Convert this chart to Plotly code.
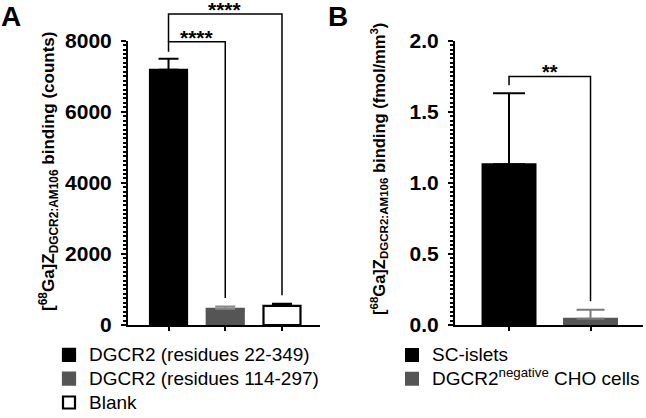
import plotly.graph_objects as go

# ---- data ----
cats_a = ["DGCR2 (residues 22-349)", "DGCR2 (residues 114-297)", "Blank"]
means_a = [7180, 455, 540]
errs_a = [310, 65, 55]
fills_a = ["#000000", "#555555", "#ffffff"]
lines_a = ["#000000", "#555555", "#000000"]
errc_a = ["#000000", "#8a8a8a", "#000000"]

cats_b = ["SC-islets", "DGCR2<sup>negative</sup> CHO cells"]
means_b = [1.13, 0.044]
errs_b = [0.50, 0.063]
fills_b = ["#000000", "#555555"]
errc_b = ["#000000", "#7a7a7a"]

ticks_a = [0, 2000, 4000, 6000, 8000]
ticks_b = [0.0, 0.5, 1.0, 1.5, 2.0]

# significance: (i, j, bracket level, left-leg bottom, label)
sig_a = [(0, 1, 7970, 7690, "****"), (0, 2, 8750, 7970, "****")]
sig_b = [(0, 1, 1.749, 1.687, "**")]

W, H = 646, 418
FONT = "Liberation Sans, Arial, sans-serif"

ydom = [1 - 325 / H, 1 - 40.7 / H]


def ypaper(v, vmax):
    return ydom[0] + v / vmax * (ydom[1] - ydom[0])


def leg_name(s):
    return f'<span style="font-size:19px">{s}</span>'


fig = go.Figure()

for i, (c, m, e) in enumerate(zip(cats_a, means_a, errs_a)):
    fig.add_trace(go.Bar(
        x=[i], y=[m], width=0.652, name=leg_name(c),
        marker=dict(color=fills_a[i], line=dict(color=lines_a[i], width=2.2)),
        error_y=dict(type="data", symmetric=False, array=[e], arrayminus=[0],
                     thickness=2, width=10, color=errc_a[i]),
        xaxis="x", yaxis="y", legend="legend", hoverinfo="skip",
    ))

for i, (c, m, e) in enumerate(zip(cats_b, means_b, errs_b)):
    fig.add_trace(go.Bar(
        x=[i], y=[m], width=0.65, name=leg_name(c),
        marker=dict(color=fills_b[i], line=dict(color=fills_b[i], width=2)),
        error_y=dict(type="data", symmetric=False, array=[e], arrayminus=[0],
                     thickness=2, width=16 if i == 0 else 14, color=errc_b[i]),
        xaxis="x2", yaxis="y2", legend="legend2", hoverinfo="skip",
    ))

axis_common = dict(showgrid=False, zeroline=False, showline=True, linewidth=2,
                   linecolor="black", ticks="outside", tickcolor="black", automargin=False)
tickfont = dict(size=21, family=FONT, color="black", weight="bold")

fig.update_layout(
    template="none",
    width=W, height=H, margin=dict(l=0, r=0, t=0, b=0, autoexpand=False),
    paper_bgcolor="white", plot_bgcolor="white", barmode="overlay",
    font=dict(family=FONT, color="black"),
    xaxis=dict(domain=[128 / W, 320 / W], range=[-0.714, 2.67],
               tickmode="array", tickvals=[0, 1, 2], showticklabels=False, ticklen=4, tickwidth=2,
               anchor="y", **axis_common),
    yaxis=dict(domain=ydom, range=[0, 8000], tickmode="array", tickvals=ticks_a,
               ticklen=5, tickwidth=2, tickfont=tickfont, ticklabelstandoff=5,
               minor=dict(tickmode="linear", tick0=0, dtick=125, ticks="outside",
                          ticklen=3, tickwidth=1.5, tickcolor="black", showgrid=False),
               anchor="x", **axis_common),
    xaxis2=dict(domain=[455 / W, 643 / W], range=[-0.663, 1.644],
                tickmode="array", tickvals=[0, 1], showticklabels=False, ticklen=4, tickwidth=2,
                anchor="y2", **axis_common),
    yaxis2=dict(domain=ydom, range=[0, 2], tickmode="array", tickvals=ticks_b, tickformat=".1f",
                ticklen=5, tickwidth=2, tickfont=tickfont, ticklabelstandoff=5,
                minor=dict(tickmode="linear", tick0=0, dtick=0.03125, ticks="outside",
                           ticklen=3, tickwidth=1.5, tickcolor="black", showgrid=False),
                anchor="x2", **axis_common),
    legend=dict(x=49 / W, y=1 - 338 / H, xanchor="left", yanchor="top",
                font=dict(size=16, family=FONT, color="black"), bgcolor="rgba(0,0,0,0)",
                traceorder="normal"),
    legend2=dict(x=392 / W, y=1 - 338 / H, xanchor="left", yanchor="top",
                 font=dict(size=16, family=FONT, color="black"), bgcolor="rgba(0,0,0,0)",
                 traceorder="normal"),
    showlegend=True,
)


def add_brackets(sig, means, errs, vmax, xr, gap, star_size):
    for (i, j, lvl, lb, lab) in sig:
        rb = means[j] + errs[j] + gap
        fig.add_shape(type="path", xref=xr, yref="paper",
                      path=f"M {i},{ypaper(lb, vmax)} L {i},{ypaper(lvl, vmax)} "
                           f"L {j},{ypaper(lvl, vmax)} L {j},{ypaper(rb, vmax)}",
                      line=dict(color="black", width=1.5))
        fig.add_annotation(x=(i + j) / 2, y=ypaper(lvl, vmax), xref=xr, yref="paper",
                           text=f"<b>{lab}</b>", showarrow=False, xanchor="center", yanchor="bottom",
                           yshift=-8, borderpad=0,
                           font=dict(size=star_size, family=FONT, color="black"))


add_brackets(sig_a, means_a, errs_a, 8000, "x", 240, 21)
add_brackets(sig_b, means_b, errs_b, 2.0, "x2", 0.06, 20)

# axis titles
fig.add_annotation(x=49 / W, y=1 - 172 / H, xref="paper", yref="paper", textangle=-90,
                   xanchor="center", yanchor="middle",
                   text="<b>[<sup>68</sup>Ga]Z<sub>DGCR2:AM106</sub> binding (counts)</b>",
                   showarrow=False, font=dict(size=17, family=FONT, color="black"))
fig.add_annotation(x=379 / W, y=1 - 169 / H, xref="paper", yref="paper", textangle=-90,
                   xanchor="center", yanchor="middle",
                   text="<b>[<sup>68</sup>Ga]Z<sub>DGCR2:AM106</sub> binding (fmol/mm<sup>3</sup>)</b>",
                   showarrow=False, font=dict(size=16.5, family=FONT, color="black"))

# panel letters
fig.add_annotation(x=0, y=1, xref="paper", yref="paper", xanchor="left", yanchor="top",
                   text="<b>A</b>", showarrow=False, borderpad=0,
                   font=dict(size=28, family=FONT, color="black"))
fig.add_annotation(x=327 / W, y=1, xref="paper", yref="paper", xanchor="left", yanchor="top",
                   text="<b>B</b>", showarrow=False, borderpad=0,
                   font=dict(size=28, family=FONT, color="black"))

fig.write_html("out.html", config={"displayModeBar": False},
               post_script="document.body.style.margin='0';document.body.style.overflow='hidden';")
